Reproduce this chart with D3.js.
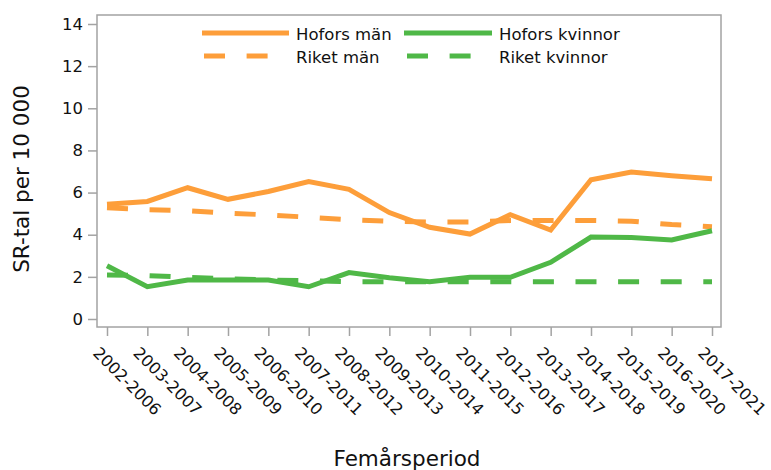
<!DOCTYPE html>
<html>
<head>
<meta charset="utf-8">
<script src="https://cdn.jsdelivr.net/npm/d3@7"></script>
<style>
  html, body { margin: 0; padding: 0; background: #fff; }
  svg { display: block; font-family: "DejaVu Sans", Verdana, sans-serif; }
</style>
</head>
<body>
<svg id="chart" width="771" height="470"></svg>
<script>
const periods = ["2002-2006","2003-2007","2004-2008","2005-2009","2006-2010","2007-2011","2008-2012","2009-2013","2010-2014","2011-2015","2012-2016","2013-2017","2014-2018","2015-2019","2016-2020","2017-2021"];
const hoforsMan     = [5.45, 5.58, 6.23, 5.68, 6.05, 6.52, 6.15, 5.05, 4.35, 4.03, 4.95, 4.22, 6.61, 6.98, 6.80, 6.66];
const riketMan      = [5.28, 5.19, 5.14, 5.02, 4.94, 4.83, 4.71, 4.64, 4.60, 4.60, 4.67, 4.68, 4.68, 4.64, 4.48, 4.38];
const hoforsKvinnor = [2.53, 1.53, 1.85, 1.85, 1.85, 1.53, 2.20, 1.96, 1.77, 1.98, 1.98, 2.69, 3.89, 3.87, 3.75, 4.19];
const riketKvinnor  = [2.09, 2.06, 1.98, 1.91, 1.85, 1.82, 1.77, 1.77, 1.77, 1.77, 1.77, 1.77, 1.77, 1.77, 1.77, 1.77];
const yTicks = [0, 2, 4, 6, 8, 10, 12, 14];
const seriesNames = ["Hofors män", "Riket män", "Hofors kvinnor", "Riket kvinnor"];

const ORANGE = "#FD9E3A", GREEN = "#4FB847", FRAME = "#A3A3A3";
const series = [
  { name: seriesNames[0], values: hoforsMan, color: ORANGE, dashed: false },
  { name: seriesNames[1], values: riketMan, color: ORANGE, dashed: true },
  { name: seriesNames[2], values: hoforsKvinnor, color: GREEN, dashed: false },
  { name: seriesNames[3], values: riketKvinnor, color: GREEN, dashed: true }
];
const DASH = "21,21.6";

const svg = d3.select("#chart");
const frame = { left: 97, right: 721, top: 15, bottom: 327 };
const x = d3.scalePoint().domain(periods).range([107, 712]);
const y = d3.scaleLinear().domain([0, 14]).range([319, 24]);

// frame
svg.append("rect")
  .attr("x", frame.left).attr("y", frame.top)
  .attr("width", frame.right - frame.left).attr("height", frame.bottom - frame.top)
  .attr("fill", "none").attr("stroke", FRAME).attr("stroke-width", 1.5);

// y axis
const yAxis = svg.append("g").attr("transform", `translate(${frame.left},0)`)
  .call(d3.axisLeft(y).tickValues(yTicks).tickSize(9).tickPadding(5).tickFormat(d3.format("d")));
yAxis.select(".domain").remove();
yAxis.selectAll(".tick line").attr("stroke", FRAME).attr("stroke-width", 1.5);
yAxis.selectAll(".tick text").attr("fill", "#111").style("font-size", "16.5px").style("font-family", "DejaVu Sans");

// x axis
const xAxis = svg.append("g").attr("transform", `translate(0,${frame.bottom})`)
  .call(d3.axisBottom(x).tickSize(9).tickFormat(""));
xAxis.select(".domain").remove();
xAxis.selectAll(".tick line").attr("stroke", FRAME).attr("stroke-width", 1.5);

svg.append("g").selectAll("text").data(periods).join("text")
  .attr("transform", d => `translate(${x(d) - 15},354) rotate(45)`)
  .attr("text-anchor", "start")
  .attr("fill", "#111")
  .style("font-size", "16.2px")
  .text(d => d);

// axis titles
svg.append("text")
  .attr("transform", "translate(29,179) rotate(-90)")
  .attr("text-anchor", "middle").attr("fill", "#111")
  .style("font-size", "21.5px")
  .text("SR-tal per 10 000");
svg.append("text")
  .attr("x", 407).attr("y", 466)
  .attr("text-anchor", "middle").attr("fill", "#111")
  .style("font-size", "21.5px")
  .text("Femårsperiod");

// lines
const line = d3.line().x((d, i) => x(periods[i])).y(d => y(d));
svg.append("g").selectAll("path").data(series).join("path")
  .attr("d", s => line(s.values))
  .attr("fill", "none")
  .attr("stroke", s => s.color)
  .attr("stroke-width", 5)
  .attr("stroke-dasharray", s => s.dashed ? DASH : null);

// legend
const legendItems = [
  { s: series[0], x0: 202, x1: 289, tx: 296, y: 33 },
  { s: series[1], x0: 204, x1: 268, tx: 296, y: 56 },
  { s: series[2], x0: 404, x1: 492, tx: 499, y: 33 },
  { s: series[3], x0: 407, x1: 471, tx: 499, y: 56 }
];
const lg = svg.append("g");
lg.selectAll("line").data(legendItems).join("line")
  .attr("x1", d => d.x0).attr("x2", d => d.x1)
  .attr("y1", d => d.y).attr("y2", d => d.y)
  .attr("stroke", d => d.s.color).attr("stroke-width", 5)
  .attr("stroke-dasharray", d => d.s.dashed ? DASH : null);
lg.selectAll("text").data(legendItems).join("text")
  .attr("x", d => d.tx).attr("y", d => d.y + 6.5)
  .attr("fill", "#111").style("font-size", "16.5px")
  .text(d => d.s.name);
</script>
</body>
</html>
